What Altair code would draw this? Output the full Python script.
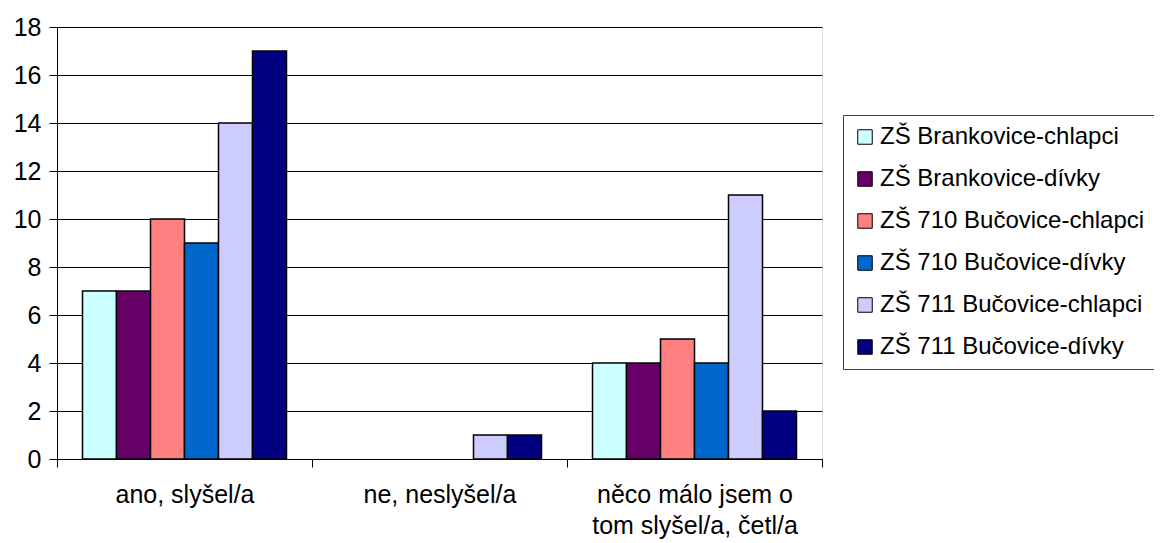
import altair as alt
import pandas as pd

categories = ["ano, slyšel/a", "ne, neslyšel/a", "něco málo jsem o tom slyšel/a, četl/a"]
series = [
    "ZŠ Brankovice-chlapci",
    "ZŠ Brankovice-dívky",
    "ZŠ 710 Bučovice-chlapci",
    "ZŠ 710 Bučovice-dívky",
    "ZŠ 711 Bučovice-chlapci",
    "ZŠ 711 Bučovice-dívky",
]
colors = ["#CCFFFF", "#660066", "#FF8080", "#0066CC", "#CCCCFF", "#000080"]
values = {
    "ZŠ Brankovice-chlapci": [7, 0, 4],
    "ZŠ Brankovice-dívky": [7, 0, 4],
    "ZŠ 710 Bučovice-chlapci": [10, 0, 5],
    "ZŠ 710 Bučovice-dívky": [9, 0, 4],
    "ZŠ 711 Bučovice-chlapci": [14, 1, 11],
    "ZŠ 711 Bučovice-dívky": [17, 1, 2],
}
y_ticks = list(range(0, 19, 2))

rows = []
for s in series:
    for c, v in zip(categories, values[s]):
        rows.append({"kategorie": c, "skupina": s, "hodnota": v})
df = pd.DataFrame(rows)

FONT = "Liberation Sans"
FS = 25

label_expr = (
    "datum.value == 'něco málo jsem o tom slyšel/a, četl/a' ? "
    "['něco málo jsem o', 'tom slyšel/a, četl/a'] : datum.label"
)

chart = (
    alt.Chart(df)
    .transform_filter("datum.hodnota > 0")
    .mark_bar(stroke="black", strokeWidth=1.5)
    .encode(
        x=alt.X(
            "kategorie:N",
            sort=categories,
            title=None,
            scale=alt.Scale(domain=categories, paddingInner=0, paddingOuter=0),
            axis=alt.Axis(
                labelAngle=0,
                labelExpr=label_expr,
                labelFont=FONT,
                labelFontSize=FS,
                labelColor="black",
                labelPadding=15,
                labelLineHeight=31,
                labelLimit=400,
                tickBand="extent",
                tickSize=8,
                tickColor="black",
                domainColor="black",
                labelBaseline="top",
            ),
        ),
        xOffset=alt.XOffset(
            "skupina:N",
            sort=series,
            scale=alt.Scale(domain=series, paddingInner=0, paddingOuter=0.75),
        ),
        y=alt.Y(
            "hodnota:Q",
            title=None,
            scale=alt.Scale(domain=[0, 18], nice=False),
            axis=alt.Axis(
                values=y_ticks,
                labelFont=FONT,
                labelFontSize=FS,
                labelColor="black",
                labelPadding=8,
                tickSize=8,
                tickColor="black",
                domainColor="black",
                grid=True,
                gridColor="black",
                gridOpacity=1,
                gridWidth=1,
            ),
        ),
        fill=alt.Fill(
            "skupina:N",
            sort=series,
            scale=alt.Scale(domain=series, range=colors),
            legend=alt.Legend(
                title=None,
                orient="none",
                legendX=786,
                legendY=88,
                symbolType="square",
                symbolSize=210,
                symbolStrokeColor="black",
                symbolStrokeWidth=1,
                labelFont=FONT,
                labelFontSize=24,
                labelColor="black",
                labelOffset=3,
                rowPadding=18,
                padding=10,
                strokeColor="#404040",
                fillColor="white",
                labelLimit=400,
            ),
        ),
    )
    .properties(
        width=765,
        height=432,
        padding={"left": 49, "top": 19, "right": 332, "bottom": 84},
        autosize=alt.AutoSizeParams(type="none"),
    )
    .configure_view(fill="#C0C0C0", stroke="#808080", strokeWidth=1)
    .configure(background="white")
)

chart.save("out.html", embed_options={"renderer": "svg", "actions": False})
